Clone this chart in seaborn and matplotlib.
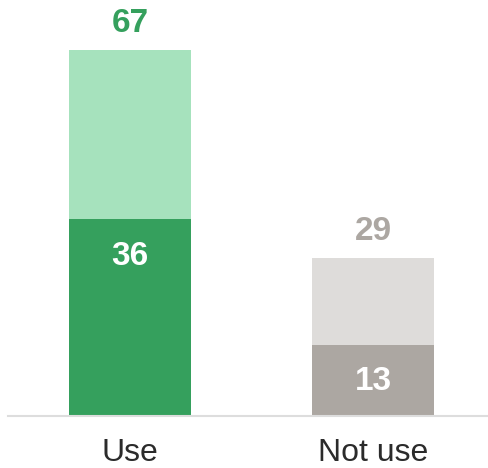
import matplotlib
matplotlib.use('Agg')
import matplotlib.pyplot as plt
import seaborn as sns

categories = ['Use', 'Not use']
totals = [67, 29]
inner = [36, 13]
light_colors = ['#a6e2bd', '#dedcda']
dark_colors = ['#35a05d', '#aca7a2']

sns.set_style('white')
plt.rcParams['font.family'] = ['Liberation Sans', 'DejaVu Sans']

fig = plt.figure(figsize=(4.89, 4.68), dpi=100)
ax = fig.add_axes([8 / 489, 52 / 468, 481 / 489, 406 / 468])

sns.barplot(x=categories, y=totals, hue=categories, palette=light_colors,
            legend=False, width=0.5, saturation=1, linewidth=0, ax=ax)
sns.barplot(x=categories, y=inner, hue=categories, palette=dark_colors,
            legend=False, width=0.5, saturation=1, linewidth=0, ax=ax)

for i, (t, v) in enumerate(zip(totals, inner)):
    ax.annotate(str(t), (i, t), xytext=(0, 19), textcoords='offset points',
                ha='center', va='center', fontsize=24, fontweight='bold',
                color=dark_colors[i])
    ax.annotate(str(v), (i, v), xytext=(0, -26.5), textcoords='offset points',
                ha='center', va='center', fontsize=24, fontweight='bold',
                color='white')

ax.set_xlim(-0.502, 1.477)
ax.set_ylim(0, 74.3)
ax.set_yticks([])
ax.set_xlabel('')
ax.set_ylabel('')
for s in ['top', 'right', 'left']:
    ax.spines[s].set_visible(False)
ax.spines['bottom'].set_color('#dddddd')
ax.spines['bottom'].set_linewidth(1.5)
ax.tick_params(axis='x', length=0, pad=16, labelsize=23, labelcolor='#2b2b2b')

plt.savefig('out.png', dpi=100)
